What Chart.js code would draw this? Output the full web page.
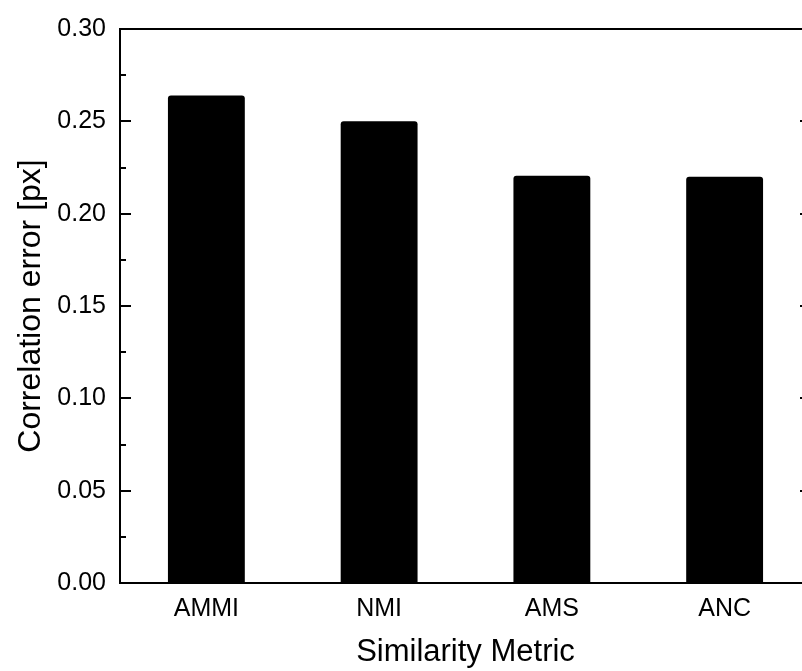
<!DOCTYPE html>
<html lang="en">
<head>
  <meta charset="UTF-8">
  <title>Correlation error by similarity metric</title>
  <script src="https://cdn.jsdelivr.net/npm/chart.js"></script>
  <style>
    html, body {
      margin: 0;
      padding: 0;
      background: #fff;
      overflow: hidden;
    }

    #contenedor {
      width: 813px;
      height: 671px;
    }
  </style>
</head>
<body>

<div id="contenedor">
  <canvas id="grafico" width="813" height="671"></canvas>
</div>

<script>
  var categorias = ['AMMI', 'NMI', 'AMS', 'ANC'];
  var errores = [0.2640, 0.2500, 0.2205, 0.2200];
  var ticksY = [0.00, 0.05, 0.10, 0.15, 0.20, 0.25, 0.30];
  var pasoMenor = 0.025;

  var fuente = "'Liberation Sans', Arial, sans-serif";

  // marco y marcas hacia dentro, como en el original
  var marcoPlugin = {
    id: 'marco',
    afterDraw: function (chart) {
      var ctx = chart.ctx;
      var area = chart.chartArea;
      var y = chart.scales.y;
      ctx.save();
      ctx.strokeStyle = '#000';
      ctx.lineWidth = 2;
      ctx.strokeRect(area.left, area.top, area.right - area.left, area.bottom - area.top);

      var min = ticksY[0];
      var max = ticksY[ticksY.length - 1];
      var n = Math.round((max - min) / pasoMenor);
      ctx.beginPath();
      for (var i = 0; i <= n; i++) {
        var v = min + i * pasoMenor;
        var py = Math.round(y.getPixelForValue(v));
        var largo = (i % 2 === 0) ? 11 : 6;
        ctx.moveTo(area.left, py);
        ctx.lineTo(area.left + largo, py);
        ctx.moveTo(area.right, py);
        ctx.lineTo(area.right - largo, py);
      }
      ctx.stroke();
      ctx.restore();
    }
  };

  var ctx = document.getElementById('grafico').getContext('2d');

  new Chart(ctx, {
    type: 'bar',
    data: {
      labels: categorias,
      datasets: [{
        data: errores,
        backgroundColor: '#000',
        borderRadius: 3,
        barPercentage: 0.445,
        categoryPercentage: 1
      }]
    },
    options: {
      responsive: false,
      animation: false,
      layout: {
        padding: { top: 28, right: 2, left: 0, bottom: 0 }
      },
      plugins: {
        legend: { display: false },
        tooltip: { enabled: false }
      },
      scales: {
        x: {
          grid: { display: false, drawTicks: false },
          border: { display: false },
          ticks: {
            color: '#000',
            padding: 11,
            font: { family: fuente, size: 25 }
          },
          title: {
            display: true,
            text: 'Similarity Metric',
            color: '#000',
            font: { family: fuente, size: 31 },
            padding: { top: 15, bottom: 0 }
          },
          afterFit: function (s) { s.height = 88; }
        },
        y: {
          min: 0,
          max: 0.3,
          grid: { display: false, drawTicks: false },
          border: { display: false },
          ticks: {
            color: '#000',
            padding: 14,
            stepSize: 0.05,
            font: { family: fuente, size: 25 },
            callback: function (v) { return v.toFixed(2); }
          },
          title: {
            display: true,
            text: 'Correlation error [px]',
            color: '#000',
            font: { family: fuente, size: 32 },
            padding: { top: 12, bottom: 0 }
          },
          afterFit: function (s) { s.width = 120; }
        }
      }
    },
    plugins: [marcoPlugin]
  });
</script>

</body>
</html>
